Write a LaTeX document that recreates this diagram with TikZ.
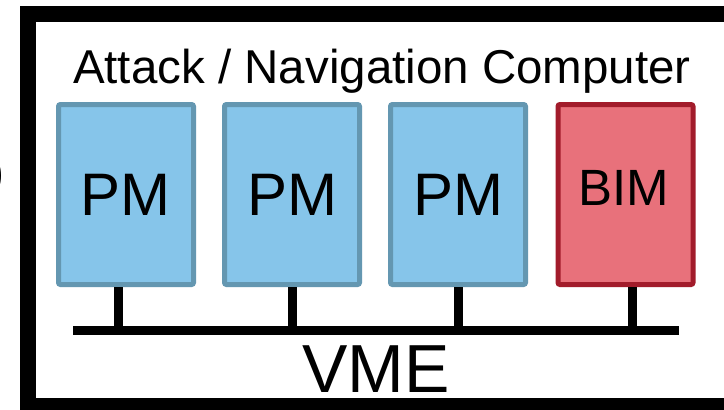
\documentclass[tikz,border=0pt]{standalone}
\usepackage{fontspec}
\setmainfont{Liberation Sans}
\definecolor{pmfill}{HTML}{86C5EA}
\definecolor{pmline}{HTML}{6497B1}
\definecolor{bimfill}{HTML}{E8717B}
\definecolor{bimline}{HTML}{A21C2B}
\tikzset{
  modbox/.style={draw, line width=5pt, rounded corners=2pt, minimum width=135pt, minimum height=180pt, inner sep=0pt},
  pmbox/.style={modbox, fill=pmfill, draw=pmline},
  bimbox/.style={modbox, fill=bimfill, draw=bimline},
  lbl/.style={anchor=base, inner sep=0pt},
  wire/.style={line width=9pt, black}
}
\begin{document}
\begin{tikzpicture}[x=1pt,y=-1pt]
\useasboundingbox (0,0) rectangle (724,410);
\clip (0,0) rectangle (724,410);
\fill[white] (0,0) rectangle (724,410);
% outer frame
\draw[line width=16pt] (28,13.5) rectangle (732,406);
% cut-off glyph at left edge
\node[anchor=east, inner sep=0pt, font=\fontsize{48}{58}\selectfont] (paren) at (5,176) {)};
% title
\node[lbl, font=\fontsize{47.5}{57}\selectfont] (title) at (382,83) {Attack / Navigation Computer};
% modules
\node[pmbox] (pm1) at (126,194.5) {};
\node[pmbox] (pm2) at (292,194.5) {};
\node[pmbox] (pm3) at (458,194.5) {};
\node[bimbox] (bim) at (625.5,194.5) {};
\node[lbl, font=\fontsize{60}{72}\selectfont] (pm1t) at (125.5,215) {PM};
\node[lbl, font=\fontsize{60}{72}\selectfont] (pm2t) at (292,215) {PM};
\node[lbl, font=\fontsize{60}{72}\selectfont] (pm3t) at (458,215) {PM};
\node[lbl, font=\fontsize{51}{61}\selectfont] (bimt) at (623.5,205) {BIM};
% bus
\coordinate (busL) at (73,330.5);
\coordinate (busR) at (679,330.5);
\coordinate (t1) at (118.5,330.5);
\coordinate (t2) at (292.5,330.5);
\coordinate (t3) at (458,330.5);
\coordinate (t4) at (632.5,330.5);
\draw[wire] (busL) -- (busR);
\draw[wire] (pm1.south -| t1) -- (t1);
\draw[wire] (pm2.south -| t2) -- (t2);
\draw[wire] (pm3.south -| t3) -- (t3);
\draw[wire] (bim.south -| t4) -- (t4);
\node[lbl, font=\fontsize{68}{80}\selectfont] (vme) at (376,392) {VME};
\end{tikzpicture}
\end{document}
